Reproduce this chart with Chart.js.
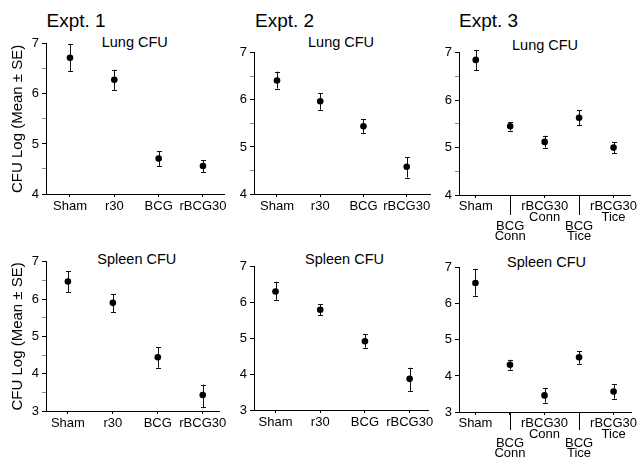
<!DOCTYPE html>
<html><head><meta charset="utf-8">
<script src="https://cdn.jsdelivr.net/npm/chart.js@4.4.0/dist/chart.umd.min.js"></script>
<style>
html,body{margin:0;padding:0;background:#fff;width:641px;height:460px;overflow:hidden;position:relative;font-family:"Liberation Sans",Arial,sans-serif;}
canvas{position:absolute;}
.t{position:absolute;white-space:nowrap;line-height:1;color:#000;}
.ex{font-size:19px;}
.pt{font-size:14.5px;}
</style></head><body>
<div class="t ex" style="left:46.5px;top:10.8px">Expt. 1</div>
<div class="t ex" style="left:255px;top:10.8px">Expt. 2</div>
<div class="t ex" style="left:459px;top:10.8px">Expt. 3</div>
<div class="t pt" style="left:101.7px;top:35px">Lung CFU</div>
<div class="t pt" style="left:308px;top:35px">Lung CFU</div>
<div class="t pt" style="left:512px;top:38px">Lung CFU</div>
<div class="t pt" style="left:97.3px;top:252px">Spleen CFU</div>
<div class="t pt" style="left:305px;top:252px">Spleen CFU</div>
<div class="t pt" style="left:507px;top:254.7px">Spleen CFU</div>
<script>
// ---- data ----
const groups12 = ['Sham', 'r30', 'BCG', 'rBCG30'];
const groups3 = ['Sham', 'BCG Conn', 'rBCG30 Conn', 'BCG Tice', 'rBCG30 Tice'];
const yRangeLung = [4, 7];
const yRangeSpleen = [3, 7];
const yAxisTitle = 'CFU Log (Mean ± SE)';

const lung1Mean  = [6.72, 6.28, 4.71, 4.56];
const lung1Upper = [7.00, 6.48, 4.86, 4.67];
const lung1Lower = [6.45, 6.08, 4.55, 4.43];

const lung2Mean  = [6.41, 5.97, 5.44, 4.58];
const lung2Upper = [6.60, 6.14, 5.59, 4.78];
const lung2Lower = [6.24, 5.79, 5.29, 4.35];

const lung3Mean  = [6.85, 5.45, 5.12, 5.63, 5.00];
const lung3Upper = [7.06, 5.54, 5.25, 5.79, 5.12];
const lung3Lower = [6.63, 5.36, 5.00, 5.47, 4.88];

const spleen1Mean  = [6.47, 5.90, 4.44, 3.43];
const spleen1Upper = [6.74, 6.13, 4.71, 3.71];
const spleen1Lower = [6.18, 5.65, 4.16, 3.10];

const spleen2Mean  = [6.31, 5.80, 4.92, 3.87];
const spleen2Upper = [6.58, 5.96, 5.12, 4.18];
const spleen2Lower = [6.08, 5.65, 4.74, 3.52];

const spleen3Mean  = [6.58, 4.31, 3.46, 4.52, 3.57];
const spleen3Upper = [6.96, 4.45, 3.67, 4.69, 3.78];
const spleen3Lower = [6.23, 4.17, 3.26, 4.34, 3.37];

// ---- drawing ----
const FAM = '"Liberation Sans", Arial, Helvetica, sans-serif';

function errPlugin(upper, lower) {
  return {
    id: 'errbars',
    beforeDatasetsDraw(chart) {
      const ctx = chart.ctx, xs = chart.scales.x, ys = chart.scales.y;
      ctx.save();
      ctx.strokeStyle = '#111';
      ctx.lineWidth = 1;
      for (let i = 0; i < upper.length; i++) {
        const x = Math.round(xs.getPixelForValue(i)) + 0.5;
        const yh = ys.getPixelForValue(upper[i]);
        const yl = ys.getPixelForValue(lower[i]);
        ctx.beginPath();
        ctx.moveTo(x, yh); ctx.lineTo(x, yl);
        ctx.moveTo(x - 2.5, Math.round(yh) + 0.5); ctx.lineTo(x + 2.5, Math.round(yh) + 0.5);
        ctx.moveTo(x - 2.5, Math.round(yl) + 0.5); ctx.lineTo(x + 2.5, Math.round(yl) + 0.5);
        ctx.stroke();
      }
      ctx.restore();
    }
  };
}

function longTickPlugin(idxs, len) {
  return {
    id: 'longticks',
    afterDraw(chart) {
      const ctx = chart.ctx, xs = chart.scales.x;
      ctx.save();
      ctx.strokeStyle = '#000';
      ctx.lineWidth = 1;
      idxs.forEach(i => {
        const x = Math.round(xs.getPixelForValue(i)) + 0.5;
        ctx.beginPath();
        ctx.moveTo(x, xs.top);
        ctx.lineTo(x, xs.top + len);
        ctx.stroke();
      });
      ctx.restore();
    }
  };
}

function panel(g, cats, mean, upper, lower, yr) {
  const padTop = 10, padRight = Math.min(8, 641 - g.R), xh = 50;
  const yw = g.yw || 40;
  const cv = document.createElement('canvas');
  const w = yw + (g.R - g.L) + padRight;
  const h = padTop + (g.B - g.T) + xh;
  cv.width = w; cv.height = h;
  cv.style.left = (g.L - yw) + 'px';
  cv.style.top = (g.T - padTop) + 'px';
  cv.style.width = w + 'px'; cv.style.height = h + 'px';
  document.body.appendChild(cv);
  const stag = i => g.stagger && (i % 2 === 1);
  const label = i => {
    const parts = cats[i].split(' ');
    if (parts.length === 1) return parts[0];
    return stag(i) ? ['', '', ...parts] : parts;
  };
  const plugins = [errPlugin(upper, lower)];
  if (g.stagger) plugins.push(longTickPlugin(cats.map((c, i) => i).filter(stag), g.longLen));
  new Chart(cv, {
    type: 'scatter',
    data: {
      datasets: [{
        data: mean.map((v, i) => ({x: i, y: v})),
        pointRadius: 3.3,
        pointHoverRadius: 3.3,
        pointBackgroundColor: '#000',
        pointBorderWidth: 0,
        showLine: false
      }]
    },
    options: {
      responsive: false,
      devicePixelRatio: 1,
      animation: false,
      events: [],
      layout: {padding: {top: padTop, right: padRight, left: 0, bottom: 0}},
      plugins: {legend: {display: false}, tooltip: {enabled: false}, title: {display: false}},
      scales: {
        x: {
          type: 'linear',
          min: g.xmin, max: g.xmax,
          afterBuildTicks: s => { s.ticks = cats.map((c, i) => ({value: i})); },
          afterFit: s => { s.height = xh; },
          ticks: {
            autoSkip: false, maxRotation: 0, minRotation: 0,
            padding: g.lpad,
            color: '#000',
            font: ctx => ({family: FAM, size: 13, lineHeight: stag(ctx.index) ? 10 / 13 : 11 / 13}),
            callback: (v, i) => label(i)
          },
          grid: {display: true, drawOnChartArea: false, drawTicks: true, tickLength: 3, tickColor: '#000', tickWidth: 1},
          border: {display: true, color: '#000', width: 1}
        },
        y: {
          type: 'linear',
          min: yr[0], max: yr[1],
          afterBuildTicks: s => {
            const t = [];
            for (let v = yr[0]; v <= yr[1] + 1e-9; v += 0.5) t.push({value: v});
            s.ticks = t;
          },
          afterFit: s => { s.width = yw; },
          ticks: {
            padding: 3, color: '#000',
            font: {family: FAM, size: 13},
            callback: v => Number.isInteger(v) ? String(v) : ''
          },
          grid: {
            display: true, drawOnChartArea: false, drawTicks: true, tickLength: 4, tickWidth: 1,
            tickColor: ctx => (ctx.tick && Number.isInteger(ctx.tick.value)) ? '#000' : '#888'
          },
          border: {display: true, color: '#000', width: 1},
          title: {
            display: !!g.ytitle, text: yAxisTitle, color: '#000',
            font: {family: FAM, size: 15, lineHeight: 1.2},
            padding: {top: 8.5, bottom: 0}
          }
        }
      }
    },
    plugins
  });
}

panel({L: 46, T: 43, R: 224, B: 194, yw: 46, xmin: -0.541, xmax: 3.474, lpad: 4, ytitle: true},
      groups12, lung1Mean, lung1Upper, lung1Lower, yRangeLung);
panel({L: 254, T: 52, R: 430, B: 194, xmin: -0.532, xmax: 3.539, lpad: 4},
      groups12, lung2Mean, lung2Upper, lung2Lower, yRangeLung);
panel({L: 459, T: 52, R: 633, B: 195, xmin: -0.486, xmax: 4.486, lpad: 3.2, stagger: true, longLen: 20},
      groups3, lung3Mean, lung3Upper, lung3Lower, yRangeLung);
panel({L: 46, T: 261, R: 223, B: 411, yw: 46, xmin: -0.487, xmax: 3.378, lpad: 4, ytitle: true},
      groups12, spleen1Mean, spleen1Upper, spleen1Lower, yRangeSpleen);
panel({L: 254, T: 266, R: 430, B: 410, xmin: -0.481, xmax: 3.421, lpad: 4},
      groups12, spleen2Mean, spleen2Upper, spleen2Lower, yRangeSpleen);
panel({L: 459, T: 267, R: 634, B: 412, xmin: -0.476, xmax: 4.513, lpad: 3.2, stagger: true, longLen: 18},
      groups3, spleen3Mean, spleen3Upper, spleen3Lower, yRangeSpleen);
</script>
</body></html>
